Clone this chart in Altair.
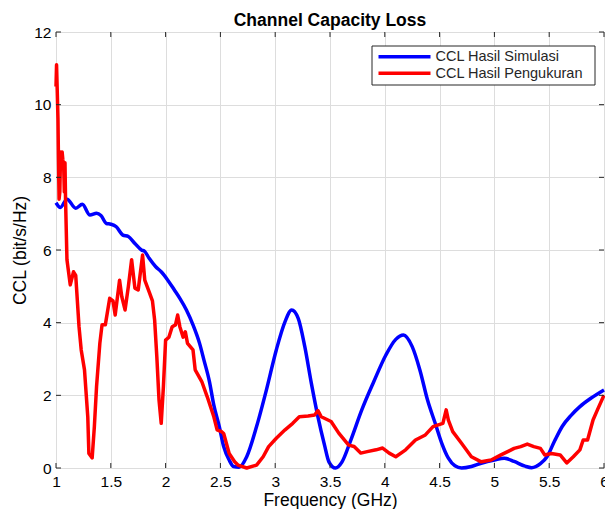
import altair as alt
import pandas as pd

# ---- data ----
sim_freq = [1.00, 1.04, 1.10, 1.18, 1.24, 1.31, 1.37, 1.41, 1.46, 1.50, 1.55, 1.61, 1.66, 1.72, 1.78,
            1.81, 1.85, 1.91, 1.96, 2.02, 2.08, 2.13, 2.19, 2.25, 2.31, 2.35, 2.40, 2.44, 2.49, 2.53,
            2.58, 2.62, 2.67, 2.74, 2.83, 2.92, 3.01, 3.09, 3.15, 3.21, 3.27, 3.33, 3.39, 3.45, 3.49,
            3.55, 3.61, 3.69, 3.79, 3.90, 4.01, 4.10, 4.17, 4.25, 4.32, 4.39, 4.46, 4.52, 4.58, 4.64,
            4.70, 4.79, 4.88, 5.00, 5.09, 5.18, 5.28, 5.34, 5.42, 5.48, 5.55, 5.62, 5.70, 5.78, 5.88, 6.00]
sim_ccl = [7.30, 7.17, 7.40, 7.15, 7.26, 6.96, 7.01, 6.95, 6.73, 6.71, 6.64, 6.41, 6.37, 6.18, 6.00,
           5.96, 5.77, 5.54, 5.40, 5.17, 4.90, 4.67, 4.35, 3.94, 3.43, 2.97, 2.38, 1.73, 1.14, 0.59,
           0.22, 0.04, 0.02, 0.31, 1.14, 2.15, 3.25, 4.03, 4.35, 4.12, 3.34, 2.33, 1.41, 0.63, 0.17,
           0.00, 0.17, 0.77, 1.60, 2.38, 3.11, 3.54, 3.66, 3.34, 2.70, 1.87, 1.23, 0.68, 0.27, 0.06,
           0.00, 0.04, 0.13, 0.22, 0.27, 0.18, 0.05, 0.01, 0.12, 0.31, 0.75, 1.15, 1.45, 1.69, 1.92, 2.15]

meas_freq = [1.000, 1.005, 1.012, 1.018, 1.022, 1.028, 1.035, 1.042, 1.050, 1.056, 1.062, 1.070, 1.076,
             1.082, 1.087, 1.10, 1.13, 1.16, 1.18, 1.21, 1.23, 1.26, 1.29, 1.30, 1.33, 1.35, 1.37, 1.40,
             1.42, 1.45, 1.49, 1.52, 1.54, 1.58, 1.60, 1.63, 1.66, 1.69, 1.72, 1.75, 1.79, 1.81, 1.85,
             1.88, 1.90, 1.92, 1.94, 1.96, 1.98, 2.00, 2.03, 2.06, 2.09, 2.11, 2.13, 2.16, 2.18, 2.20,
             2.25, 2.27, 2.33, 2.38, 2.44, 2.47, 2.51, 2.53, 2.58, 2.63, 2.66, 2.74, 2.83, 2.89, 2.94,
             3.01, 3.09, 3.16, 3.22, 3.30, 3.36, 3.39, 3.42, 3.51, 3.58, 3.67, 3.72, 3.78, 3.84, 3.92,
             3.98, 4.04, 4.10, 4.19, 4.28, 4.37, 4.44, 4.53, 4.56, 4.58, 4.62, 4.70, 4.79, 4.88, 4.97,
             5.06, 5.18, 5.24, 5.30, 5.36, 5.42, 5.46, 5.52, 5.60, 5.66, 5.72, 5.78, 5.81, 5.85, 5.90,
             5.94, 6.00]
meas_ccl = [10.5, 11.1, 10.3, 9.6, 8.6, 7.4, 7.6, 8.7, 8.4, 8.7, 8.5, 8.3, 7.6,
            8.4, 7.4, 5.73, 5.04, 5.40, 5.30, 3.89, 3.25, 2.70, 1.41, 0.40, 0.28, 1.14, 2.24, 3.43,
            3.94, 3.94, 4.67, 4.60, 4.21, 5.17, 4.72, 4.35, 4.99, 5.73, 4.95, 4.90, 5.86, 5.17, 4.85,
            4.60, 4.07, 3.06, 1.87, 1.23, 2.24, 3.52, 3.60, 3.89, 3.94, 4.21, 3.89, 3.60, 3.75, 3.43,
            3.25, 2.70, 2.38, 1.96, 1.41, 1.05, 1.00, 0.95, 0.40, 0.17, 0.08, 0.00, 0.08, 0.31, 0.59,
            0.82, 1.05, 1.23, 1.41, 1.43, 1.46, 1.58, 1.41, 1.28, 0.96, 0.63, 0.59, 0.41, 0.45, 0.50,
            0.55, 0.41, 0.31, 0.50, 0.77, 0.91, 1.14, 1.23, 1.60, 1.32, 1.00, 0.68, 0.31, 0.17, 0.22,
            0.36, 0.54, 0.59, 0.66, 0.59, 0.54, 0.36, 0.40, 0.36, 0.14, 0.31, 0.50, 0.77, 0.77, 1.32,
            1.60, 2.00]

series_names = ["CCL Hasil Simulasi", "CCL Hasil Pengukuran"]
series_colors = ["#0000ff", "#ff0000"]

x_ticks = [1, 1.5, 2, 2.5, 3, 3.5, 4, 4.5, 5, 5.5, 6]
y_ticks = [0, 2, 4, 6, 8, 10, 12]

chart_title = "Channel Capacity Loss"

W, H = 548, 436
TXT = "#262626"
FONT = "Liberation Sans"

sim_df = pd.DataFrame({"f": sim_freq, "ccl": sim_ccl, "s": series_names[0]})
meas_df = pd.DataFrame({"f": meas_freq, "ccl": meas_ccl, "s": series_names[1]})
xt_df = pd.DataFrame({"v": x_ticks})
yt_df = pd.DataFrame({"v": y_ticks})

xscale = alt.Scale(domain=[1, 6], nice=False, zero=False)
yscale = alt.Scale(domain=[0, 12], nice=False)

xaxis = alt.Axis(values=x_ticks, title="Frequency (GHz)", grid=True, domain=False, ticks=False,
                 labelPadding=6, labelFontSize=15.5, titleFontSize=17.5, titleFontWeight="normal",
                 titleBaseline="alphabetic", titleY=37, labelFlush=False, format="~g")
yaxis = alt.Axis(values=y_ticks, title="CCL (bit/s/Hz)", grid=True, domain=False, ticks=False,
                 labelPadding=5, labelFontSize=15.5, titleFontSize=17.5, titleFontWeight="normal",
                 titleAngle=270, titleBaseline="alphabetic", titleAlign="center",
                 titleX=-31, titleY=H / 2, format="~g")

base_x = alt.X("f:Q", scale=xscale, axis=xaxis)
base_y = alt.Y("ccl:Q", scale=yscale, axis=yaxis)

sim_line = alt.Chart(sim_df).mark_line(color=series_colors[0], strokeWidth=3.5,
                                       interpolate="monotone").encode(x=base_x, y=base_y)
meas_line = alt.Chart(meas_df).mark_line(color=series_colors[1], strokeWidth=3.5,
                                         strokeJoin="round").encode(
    x=alt.X("f:Q", scale=xscale), y=alt.Y("ccl:Q", scale=yscale))

tick_col = TXT
bt = alt.Chart(xt_df).mark_rule(color=tick_col, strokeWidth=1).encode(
    x=alt.X("v:Q", scale=xscale), y=alt.value(H), y2=alt.value(H - 5))
tt = alt.Chart(xt_df).mark_rule(color=tick_col, strokeWidth=1).encode(
    x=alt.X("v:Q", scale=xscale), y=alt.value(0), y2=alt.value(5))
lt = alt.Chart(yt_df).mark_rule(color=tick_col, strokeWidth=1).encode(
    y=alt.Y("v:Q", scale=yscale), x=alt.value(0), x2=alt.value(5))
rt = alt.Chart(yt_df).mark_rule(color=tick_col, strokeWidth=1).encode(
    y=alt.Y("v:Q", scale=yscale), x=alt.value(W), x2=alt.value(W - 5))

one = alt.Data(values=[{"a": 1}])

title_mark = alt.Chart(one).mark_text(text=chart_title, align="center", baseline="alphabetic",
                                      fontSize=17.5, fontWeight="bold", font=FONT,
                                      color="#000000").encode(
    x=alt.value(W / 2), y=alt.value(-6))

lx0, lx1, ly0, ly1 = 316, 539, 14, 53
leg_box = alt.Chart(one).mark_rect(fill="white", stroke=TXT, strokeWidth=1).encode(
    x=alt.value(lx0), x2=alt.value(lx1), y=alt.value(ly0), y2=alt.value(ly1))
leg_layers = [leg_box]
for i, (name, col) in enumerate(zip(series_names, series_colors)):
    yy = 24.7 + i * 16.6
    leg_layers.append(alt.Chart(one).mark_rule(color=col, strokeWidth=3.5).encode(
        x=alt.value(lx0 + 6.5), x2=alt.value(lx0 + 58.5), y=alt.value(yy)))
    leg_layers.append(alt.Chart(one).mark_text(text=name, align="left", baseline="middle",
                                               fontSize=14.5, font=FONT, color=TXT).encode(
        x=alt.value(lx0 + 63.5), y=alt.value(yy + 0.5)))

chart = alt.layer(sim_line, meas_line, bt, tt, lt, rt, title_mark, *leg_layers).properties(
    width=W, height=H,
    autosize=alt.AutoSizeParams(type="none"),
    padding={"left": 48, "top": 24, "right": 1, "bottom": 41},
).configure_view(stroke=TXT, strokeWidth=1).configure_axis(
    gridColor="#e3e3e3", gridWidth=1, labelColor=TXT, titleColor=TXT,
    labelFont=FONT, titleFont=FONT,
).configure(background="white")

chart.save("out.html", embed_options={"renderer": "svg", "actions": False})
